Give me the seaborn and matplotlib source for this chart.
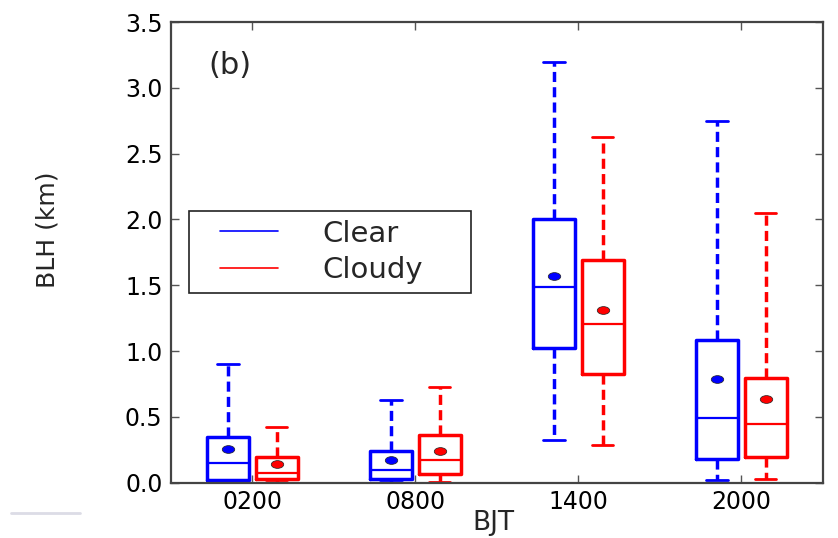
import matplotlib
matplotlib.use("Agg")
import numpy as np
import matplotlib.pyplot as plt
from matplotlib.lines import Line2D
from matplotlib.path import Path
from matplotlib.transforms import Affine2D
from matplotlib.legend_handler import HandlerLine2D
import seaborn as sns

sns.set_style("ticks")
plt.rcParams["font.family"] = ["DejaVu Sans"]

# Boundary-layer height statistics (km) per observation time
times = ["0200", "0800", "1400", "2000"]
groups = ["Clear", "Cloudy"]
colors = {"Clear": "#0000ff", "Cloudy": "#ff0000"}

clear_whislo = [0.005, 0.005, 0.32, 0.021]
clear_q1 = [0.02, 0.024, 1.024, 0.179]
clear_med = [0.146, 0.093, 1.486, 0.492]
clear_q3 = [0.35, 0.242, 2.0, 1.083]
clear_whishi = [0.90, 0.627, 3.195, 2.747]
clear_mean = [0.257, 0.171, 1.569, 0.789]

cloudy_whislo = [0.005, 0.006, 0.283, 0.027]
cloudy_q1 = [0.027, 0.062, 0.822, 0.194]
cloudy_med = [0.07, 0.173, 1.204, 0.442]
cloudy_q3 = [0.196, 0.359, 1.693, 0.794]
cloudy_whishi = [0.42, 0.726, 2.625, 2.048]
cloudy_mean = [0.14, 0.242, 1.311, 0.632]

series = {
    "Clear": (clear_whislo, clear_q1, clear_med, clear_q3, clear_whishi, clear_mean),
    "Cloudy": (cloudy_whislo, cloudy_q1, cloudy_med, cloudy_q3, cloudy_whishi, cloudy_mean),
}
offsets = {"Clear": -0.15, "Cloudy": 0.15}

# slightly flattened dot for the mean marker
mean_marker = Path.unit_circle().transformed(Affine2D().scale(1.0, 0.62))


class InsetLine(HandlerLine2D):
    """Legend line that leaves some blank space at the left of its handle box."""

    def get_xdata(self, legend, xdescent, ydescent, width, height, fontsize):
        xdata, xmark = super().get_xdata(legend, xdescent, ydescent, width, height, fontsize)
        start = xdata[0] + 0.27 * (xdata[-1] - xdata[0])
        return np.array([start, xdata[-1]]), xmark


fig = plt.figure(figsize=(8.38, 5.38), dpi=100)
ax = fig.add_axes([0.204, 0.103, 0.778, 0.856])

for g in groups:
    lo, q1, med, q3, hi, mean = series[g]
    stats = [
        dict(whislo=lo[i], q1=q1[i], med=med[i], q3=q3[i], whishi=hi[i],
             mean=mean[i], fliers=[])
        for i in range(len(times))
    ]
    c = colors[g]
    ax.bxp(
        stats,
        positions=[i + offsets[g] for i in range(len(times))],
        widths=0.26,
        showmeans=True,
        showfliers=False,
        boxprops=dict(color=c, linewidth=2.5),
        whiskerprops=dict(color=c, linewidth=2.5, linestyle=(0, (2.9, 1.5))),
        capprops=dict(color=c, linewidth=2.0),
        medianprops=dict(color=c, linewidth=1.6),
        meanprops=dict(marker=mean_marker, markerfacecolor=c, markeredgecolor="#202020",
                       markeredgewidth=0.5, markersize=9),
    )

ax.set_xlim(-0.5, 3.5)
ax.set_ylim(0, 3.5)
ax.set_xticks(range(len(times)))
ax.set_xticklabels(times)
ax.set_yticks([0, 0.5, 1.0, 1.5, 2.0, 2.5, 3.0, 3.5])
ax.set_yticklabels(["0.0", "0.5", "1.0", "1.5", "2.0", "2.5", "3.0", "3.5"])
ax.tick_params(axis="both", direction="in", top=True, right=True, length=6,
               width=1, labelsize=17, colors="#555555", labelcolor="black")
ax.tick_params(axis="x", pad=5)
ax.tick_params(axis="y", pad=6)
for s in ax.spines.values():
    s.set_color("#444444")
    s.set_linewidth(1.6)

ax.set_xlabel("BJT", fontsize=19, va="bottom")
ax.xaxis.set_label_coords(0.495, -0.117)
ax.set_ylabel("BLH (km)", fontsize=18, va="center")
ax.yaxis.set_label_coords(-0.19, 0.548)
ax.text(0.057, 0.906, "(b)", transform=ax.transAxes, fontsize=22,
        ha="left", va="center")

handles = [Line2D([], [], color=colors[g], linewidth=1.2) for g in groups]
leg = ax.legend(handles, groups, loc="upper left",
                bbox_to_anchor=(0.028, 0.41, 0.4325, 0.18), mode="expand",
                handler_map={Line2D: InsetLine()},
                fontsize=21, frameon=True, fancybox=False, framealpha=1,
                edgecolor="#222222", handlelength=2.75, handletextpad=1.5,
                borderpad=0.3, labelspacing=0.3, borderaxespad=0)
leg.get_frame().set_linewidth(1.2)

fig.add_artist(Line2D([11 / 838, 80 / 838], [1 - 513 / 538, 1 - 513 / 538],
                      transform=fig.transFigure, color="#dcdce6", linewidth=2))

fig.savefig("out.png", dpi=100)
